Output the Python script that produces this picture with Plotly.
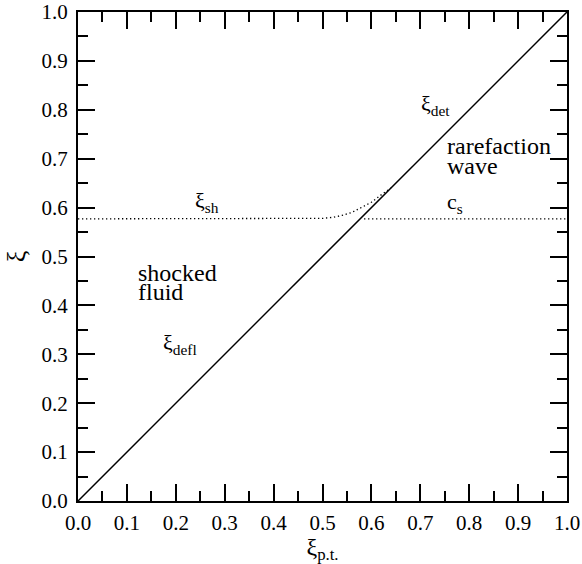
import plotly.graph_objects as go

# data
diag_x = [0.0, 1.0]
diag_y = [0.0, 1.0]
sh_x = [0.0, 0.45, 0.50, 0.52, 0.54, 0.56, 0.58, 0.60, 0.62, 0.64]
sh_y = [0.577, 0.577, 0.578, 0.580, 0.584, 0.590, 0.600, 0.611, 0.626, 0.640]
cs_x = [0.585, 1.0]
cs_y = [0.577, 0.577]

labels = [
    (0.264, 0.612, "ξ<sub>sh</sub>"),
    (0.732, 0.810, "ξ<sub>det</sub>"),
    (0.771, 0.610, "c<sub>s</sub>"),
    (0.209, 0.322, "ξ<sub>defl</sub>"),
]
blocks = [
    (0.118, 0.467, "shocked"),
    (0.118, 0.427, "fluid"),
    (0.75, 0.727, "rarefaction"),
    (0.75, 0.686, "wave"),
]

FONT = "Liberation Serif"

fig = go.Figure()
fig.add_trace(go.Scatter(x=diag_x, y=diag_y, mode="lines",
                         line=dict(color="black", width=1.5), showlegend=False))
fig.add_trace(go.Scatter(x=sh_x, y=sh_y, mode="lines",
                         line=dict(color="black", width=1.3, dash="1.3px,2.7px"),
                         showlegend=False))
fig.add_trace(go.Scatter(x=cs_x, y=cs_y, mode="lines",
                         line=dict(color="black", width=1.3, dash="1.3px,2.7px"),
                         showlegend=False))

for x, y, t in labels:
    fig.add_annotation(x=x, y=y, text=t, showarrow=False, xanchor="center", yanchor="middle",
                       font=dict(size=22, family=FONT, color="black"))
for x, y, t in blocks:
    fig.add_annotation(x=x, y=y, text=t, showarrow=False, xanchor="left", yanchor="middle",
                       font=dict(size=24, family=FONT, color="black"))

axis_common = dict(
    range=[0, 1], dtick=0.1, tick0=0, tickformat=".1f",
    ticks="inside", ticklen=17, tickwidth=1.5, tickcolor="black",
    showline=True, linecolor="black", linewidth=2, mirror="allticks",
    showgrid=False, zeroline=False, automargin=False,
    tickfont=dict(size=21, family=FONT, color="black"),
    minor=dict(ticks="inside", ticklen=10, dtick=0.05, tick0=0,
               tickwidth=1.5, tickcolor="black", showgrid=False),
)

fig.update_layout(
    width=582, height=564,
    margin=dict(l=78, r=15, t=12, b=63),
    paper_bgcolor="white", plot_bgcolor="white",
    xaxis=dict(**axis_common, ticklabelstandoff=2,
               title=dict(text="ξ<sub>p.t.</sub>", standoff=0,
                          font=dict(size=24, family=FONT, color="black"))),
    yaxis=dict(**axis_common, ticklabelstandoff=4,
               title=dict(text="ξ", standoff=8,
                          font=dict(size=26, family=FONT, color="black"))),
)

fig.write_html("out.html")
